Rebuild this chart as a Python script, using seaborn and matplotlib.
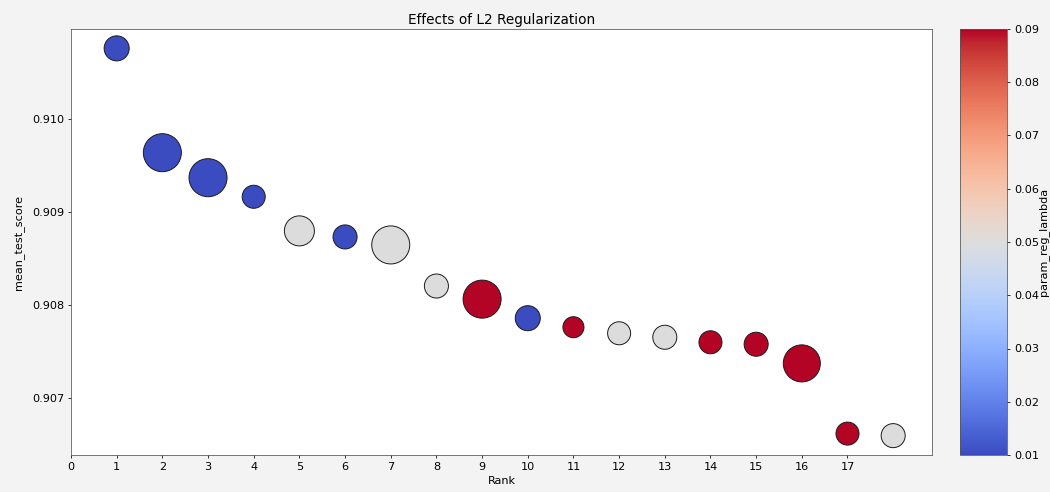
import numpy as np
import pandas as pd
import matplotlib
matplotlib.use("Agg")
import matplotlib.pyplot as plt
import seaborn as sns

# ---- data ----
rank = list(range(1, 19))
mean_test_score = [0.910755, 0.909633, 0.909364, 0.909159, 0.908792, 0.908727,
                   0.908641, 0.908199, 0.908058, 0.907853, 0.907756, 0.907691,
                   0.907648, 0.907594, 0.907573, 0.907367, 0.906612, 0.906590]
param_reg_lambda = [0.01, 0.01, 0.01, 0.01, 0.05, 0.01, 0.05, 0.05, 0.09,
                    0.01, 0.09, 0.05, 0.05, 0.09, 0.09, 0.09, 0.09, 0.05]
marker_area = [663, 1530, 1530, 561, 954, 611, 1530, 611, 1530,
               663, 468, 561, 611, 561, 611, 1451, 561, 611]
x_ticks = list(range(0, 18))
y_ticks = [0.907, 0.908, 0.909, 0.910]
cbar_ticks = [0.01, 0.02, 0.03, 0.04, 0.05, 0.06, 0.07, 0.08, 0.09]

df = pd.DataFrame({"Rank": rank, "mean_test_score": mean_test_score,
                   "param_reg_lambda": param_reg_lambda, "area": marker_area})

plt.rcParams["font.family"] = ["DejaVu Sans"]
bg = "#f3f3f3"
fs = 11.6
fig = plt.figure(figsize=(15, 492 / 70), dpi=70, facecolor=bg)
ax = fig.add_axes([71 / 1050, 1 - 455 / 492, (932 - 71) / 1050, (455 - 29) / 492])
ax.set_facecolor("white")

amin, amax = min(marker_area), max(marker_area)
sns.scatterplot(data=df, x="Rank", y="mean_test_score", hue="param_reg_lambda",
                palette="coolwarm", hue_norm=(0.01, 0.09),
                size="area", sizes=(amin, amax), size_norm=(amin, amax),
                edgecolor="#1a1a1a", linewidth=1.0, alpha=1.0,
                legend=False, ax=ax)

ax.set_xticks(x_ticks)
ax.set_yticks(y_ticks)
ax.set_title("Effects of L2 Regularization", fontsize=14, pad=5)
ax.set_xlabel("Rank", fontsize=fs, labelpad=4)
ax.set_ylabel("mean_test_score", fontsize=fs, labelpad=7)
ax.tick_params(labelsize=fs)
for sp in ax.spines.values():
    sp.set_color("#555555")

cax = fig.add_axes([960 / 1050, 1 - 455 / 492, 47 / 1050, (455 - 29) / 492])
sm = plt.cm.ScalarMappable(cmap="coolwarm", norm=plt.Normalize(0.01, 0.09))
cb = fig.colorbar(sm, cax=cax)
cb.set_ticks(cbar_ticks)
cb.ax.tick_params(labelsize=fs)
cb.set_label("param_reg_lambda", fontsize=fs, labelpad=-1)
cb.outline.set_edgecolor("#555555")

fig.savefig("out.png", dpi=70, facecolor=bg)
